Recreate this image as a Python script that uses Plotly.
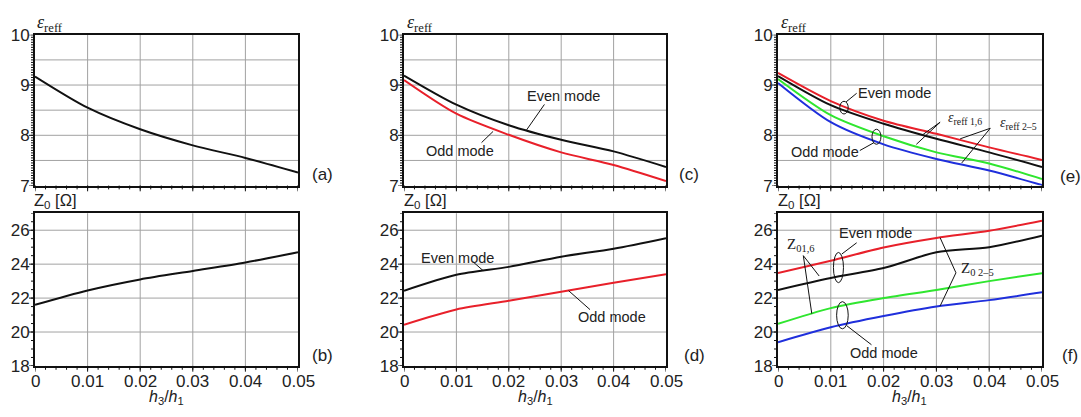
import plotly.graph_objects as go

# ---------------- data ----------------
h_ratio = [0, 0.01, 0.02, 0.03, 0.04, 0.05]

a_eps = [9.17, 8.55, 8.12, 7.80, 7.55, 7.26]
b_z0 = [21.6, 22.45, 23.1, 23.6, 24.1, 24.7]

c_even = [9.19, 8.61, 8.20, 7.91, 7.68, 7.37]
c_odd = [9.10, 8.43, 8.01, 7.66, 7.41, 7.09]
d_even = [22.43, 23.37, 23.84, 24.44, 24.91, 25.53]
d_odd = [20.43, 21.33, 21.84, 22.37, 22.90, 23.40]

e_red = [9.24, 8.68, 8.29, 8.03, 7.76, 7.51]
e_black = [9.18, 8.60, 8.23, 7.93, 7.66, 7.37]
e_green = [9.12, 8.40, 7.98, 7.66, 7.44, 7.13]
e_blue = [9.04, 8.26, 7.82, 7.53, 7.30, 7.01]
f_red = [23.47, 24.20, 24.98, 25.54, 25.97, 26.56]
f_black = [22.48, 23.19, 23.77, 24.70, 25.00, 25.68]
f_green = [20.48, 21.41, 22.00, 22.48, 23.00, 23.47]
f_blue = [19.40, 20.28, 20.94, 21.50, 21.88, 22.34]

# tick / grid values
x_ticks = [0, 0.01, 0.02, 0.03, 0.04, 0.05]
x_labels = ["0", "0.01", "0.02", "0.03", "0.04", "0.05"]
x_grid = [0.01, 0.02, 0.03, 0.04]
x_minor = [round(i * 0.002, 4) for i in range(26)]
eps_ticks = [7, 8, 9, 10]
eps_grid = [7.5, 8, 8.5, 9, 9.5]
eps_minor = [round(7 + i * 0.05, 2) for i in range(61)]
z_ticks = [18, 20, 22, 24, 26]
z_grid = [20, 22, 24, 26]
z_minor = [18 + i * 0.5 for i in range(19)]

# ---------------- styles ----------------
BLACK = "#111111"
RED = "#e8202a"
GREEN = "#2fe62f"
BLUE = "#1f2fdc"
GRIDC = "#a2a2a2"
SANS = "Liberation Sans, Arial, sans-serif"
SERIF = "Liberation Serif, Times New Roman, serif"
W, H = 1081, 417

xdom = [[35 / W, 298 / W], [404 / W, 666 / W], [778 / W, 1042 / W]]
ydom_top = [1 - 185 / H, 1 - 27 / H]
ydom_bot = [1 - 374 / H, 1 - 214 / H]

fig = go.Figure()

series = [
    (1, a_eps, BLACK), (2, b_z0, BLACK),
    (3, c_even, BLACK), (3, c_odd, RED),
    (4, d_even, BLACK), (4, d_odd, RED),
    (5, e_red, RED), (5, e_black, BLACK), (5, e_green, GREEN), (5, e_blue, BLUE),
    (6, f_red, RED), (6, f_black, BLACK), (6, f_green, GREEN), (6, f_blue, BLUE),
]
for k, ys, col in series:
    fig.add_trace(go.Scatter(
        x=h_ratio, y=ys, mode="lines",
        line=dict(color=col, width=2, shape="spline", smoothing=0.8),
        xaxis="x" if k == 1 else f"x{k}", yaxis="y" if k == 1 else f"y{k}",
        showlegend=False, hoverinfo="skip"))

layout = dict(width=W, height=H, margin=dict(l=0, r=0, t=0, b=0),
              paper_bgcolor="white", plot_bgcolor="white", showlegend=False,
              font=dict(family=SANS, color="#222"))

COMMON = dict(showgrid=False, ticks="", zeroline=False,
              tickfont=dict(family=SANS, size=17, color="#222"),
              showline=True, mirror=True, linecolor=BLACK, linewidth=2)

ann = []
shapes = []


def text(x, y, s, xref, yref, size=14.5, family=SANS, xanchor="center", yanchor="middle"):
    ann.append(dict(x=x, y=y, text=s, xref=xref, yref=yref, showarrow=False,
                    xanchor=xanchor, yanchor=yanchor,
                    font=dict(family=family, size=size, color="#222")))


def seg(x0, y0, x1, y1, xref, yref, w=1, color=BLACK, layer="above"):
    shapes.append(dict(type="line", x0=x0, y0=y0, x1=x1, y1=y1, xref=xref, yref=yref,
                       layer=layer, line=dict(color=color, width=w)))


def ell(x0, y0, x1, y1, xref, yref):
    shapes.append(dict(type="circle", x0=x0, y0=y0, x1=x1, y1=y1, xref=xref, yref=yref,
                       line=dict(color=BLACK, width=1)))


for k in range(1, 7):
    col = (k - 1) // 2
    top = (k % 2 == 1)
    xname = "xaxis" if k == 1 else f"xaxis{k}"
    yname = "yaxis" if k == 1 else f"yaxis{k}"
    ya = "y" if k == 1 else f"y{k}"
    xa = "x" if k == 1 else f"x{k}"
    layout[xname] = dict(domain=xdom[col], anchor=ya, range=[0, 0.05],
                         showticklabels=False, **COMMON)
    if top:
        layout[yname] = dict(domain=ydom_top, anchor=xa, range=[7, 10],
                             tickmode="array", tickvals=eps_ticks, **COMMON)
        ygrid, yminor, ymajor = eps_grid, eps_minor, eps_ticks
        dom_h = ydom_top[1] - ydom_top[0]
    else:
        layout[yname] = dict(domain=ydom_bot, anchor=xa, range=[18, 27],
                             tickmode="array", tickvals=z_ticks, **COMMON)
        ygrid, yminor, ymajor = z_grid, z_minor, z_ticks
        dom_h = ydom_bot[1] - ydom_bot[0]
    dom_w = xdom[col][1] - xdom[col][0]
    fx = 1.0 / (dom_w * W)
    fy = 1.0 / (dom_h * H)

    for v in x_grid:
        seg(v, 0, v, 1, xa, f"{ya} domain", color=GRIDC, layer="below")
    for v in ygrid:
        seg(0, v, 1, v, f"{xa} domain", ya, color=GRIDC, layer="below")
    for v in yminor:
        seg(-4 * fx, v, 0, v, f"{xa} domain", ya)
    for v in ymajor:
        seg(-6 * fx, v, 0, v, f"{xa} domain", ya)
    for v in x_minor:
        seg(v, -4 * fy, v, 0, xa, f"{ya} domain")
    for v in x_ticks:
        seg(v, -6 * fy, v, 0, xa, f"{ya} domain")
    if not top:
        for v, s in zip(x_ticks, x_labels):
            text(v, 1 - 390 / H, s, xa, "paper", size=17)

fig.update_layout(**layout)

for col, left in zip(range(3), [35, 405, 779]):
    text(left / W, 1 - 15 / H, "<i>ε</i><sub>reff</sub>", "paper", "paper",
         size=18, family=SERIF, xanchor="left")
    text((left - 3) / W, 1 - 201 / H, "Z<sub>0</sub> [Ω]", "paper", "paper",
         size=16.5, xanchor="left")
    cx = (xdom[col][0] + xdom[col][1]) / 2
    text(cx, -0.004, "<i>h</i><sub>3</sub>/<i>h</i><sub>1</sub>", "paper", "paper",
         size=16, yanchor="bottom")

for s, px, py in [("(a)", 322, 173), ("(b)", 322, 363), ("(c)", 689, 173),
                  ("(d)", 694, 363), ("(e)", 1070, 175), ("(f)", 1070, 363)]:
    text(px / W, 1 - py / H, s, "paper", "paper", size=17)

# panel (c)
text(0.0304, 8.775, "Even mode", "x3", "y3")
seg(0.0268, 8.614, 0.0234, 8.108, "x3", "y3")
text(0.0107, 7.697, "Odd mode", "x3", "y3")
seg(0.0148, 7.855, 0.0170, 8.077, "x3", "y3")

# panel (d)
text(0.0102, 24.37, "Even mode", "x4", "y4")
seg(0.0132, 24.13, 0.0151, 23.62, "x4", "y4")
text(0.0396, 20.90, "Odd mode", "x4", "y4")
seg(0.0355, 21.32, 0.0314, 22.44, "x4", "y4")

# panel (e)
text(0.0220, 8.836, "Even mode", "x5", "y5")
ell(0.0117, 8.424, 0.0133, 8.677, "x5", "y5")
seg(0.0129, 8.665, 0.0149, 8.836, "x5", "y5")
text(0.0089, 7.665, "Odd mode", "x5", "y5")
ell(0.0178, 7.822, 0.0195, 8.120, "x5", "y5")
seg(0.0155, 7.697, 0.0182, 7.855, "x5", "y5")
text(0.0355, 8.33, "<i>ε</i><sub>reff 1,6</sub>", "x5", "y5", size=14, family=SERIF)
seg(0.0307, 8.26, 0.0262, 7.82, "x5", "y5")
seg(0.0307, 8.26, 0.0275, 8.02, "x5", "y5")
text(0.0456, 8.234, "<i>ε</i><sub>reff 2–5</sub>", "x5", "y5", size=14, family=SERIF)
seg(0.0402, 8.14, 0.0345, 7.93, "x5", "y5")
seg(0.0402, 8.14, 0.0348, 7.45, "x5", "y5")

# panel (f)
text(0.0185, 25.82, "Even mode", "x6", "y6")
ell(0.0105, 22.91, 0.0124, 24.69, "x6", "y6")
seg(0.0121, 24.60, 0.0149, 25.26, "x6", "y6")
text(0.0043, 25.11, "Z<sub>01,6</sub>", "x6", "y6", size=15, family=SERIF)
seg(0.0048, 24.50, 0.0078, 23.30, "x6", "y6")
seg(0.0048, 24.50, 0.0064, 21.08, "x6", "y6")
text(0.0378, 23.71, "Z<sub>0 2–5</sub>", "x6", "y6", size=15, family=SERIF)
seg(0.0337, 23.49, 0.0307, 25.56, "x6", "y6")
seg(0.0337, 23.49, 0.0307, 21.53, "x6", "y6")
text(0.0200, 18.77, "Odd mode", "x6", "y6")
ell(0.0111, 20.19, 0.0133, 21.79, "x6", "y6")
seg(0.0130, 20.38, 0.0177, 19.25, "x6", "y6")

fig.update_layout(annotations=ann, shapes=shapes)
fig.write_html(
    "out.html",
    post_script="document.body.style.margin='0';document.documentElement.style.overflow='hidden';document.body.style.overflow='hidden';",
)
